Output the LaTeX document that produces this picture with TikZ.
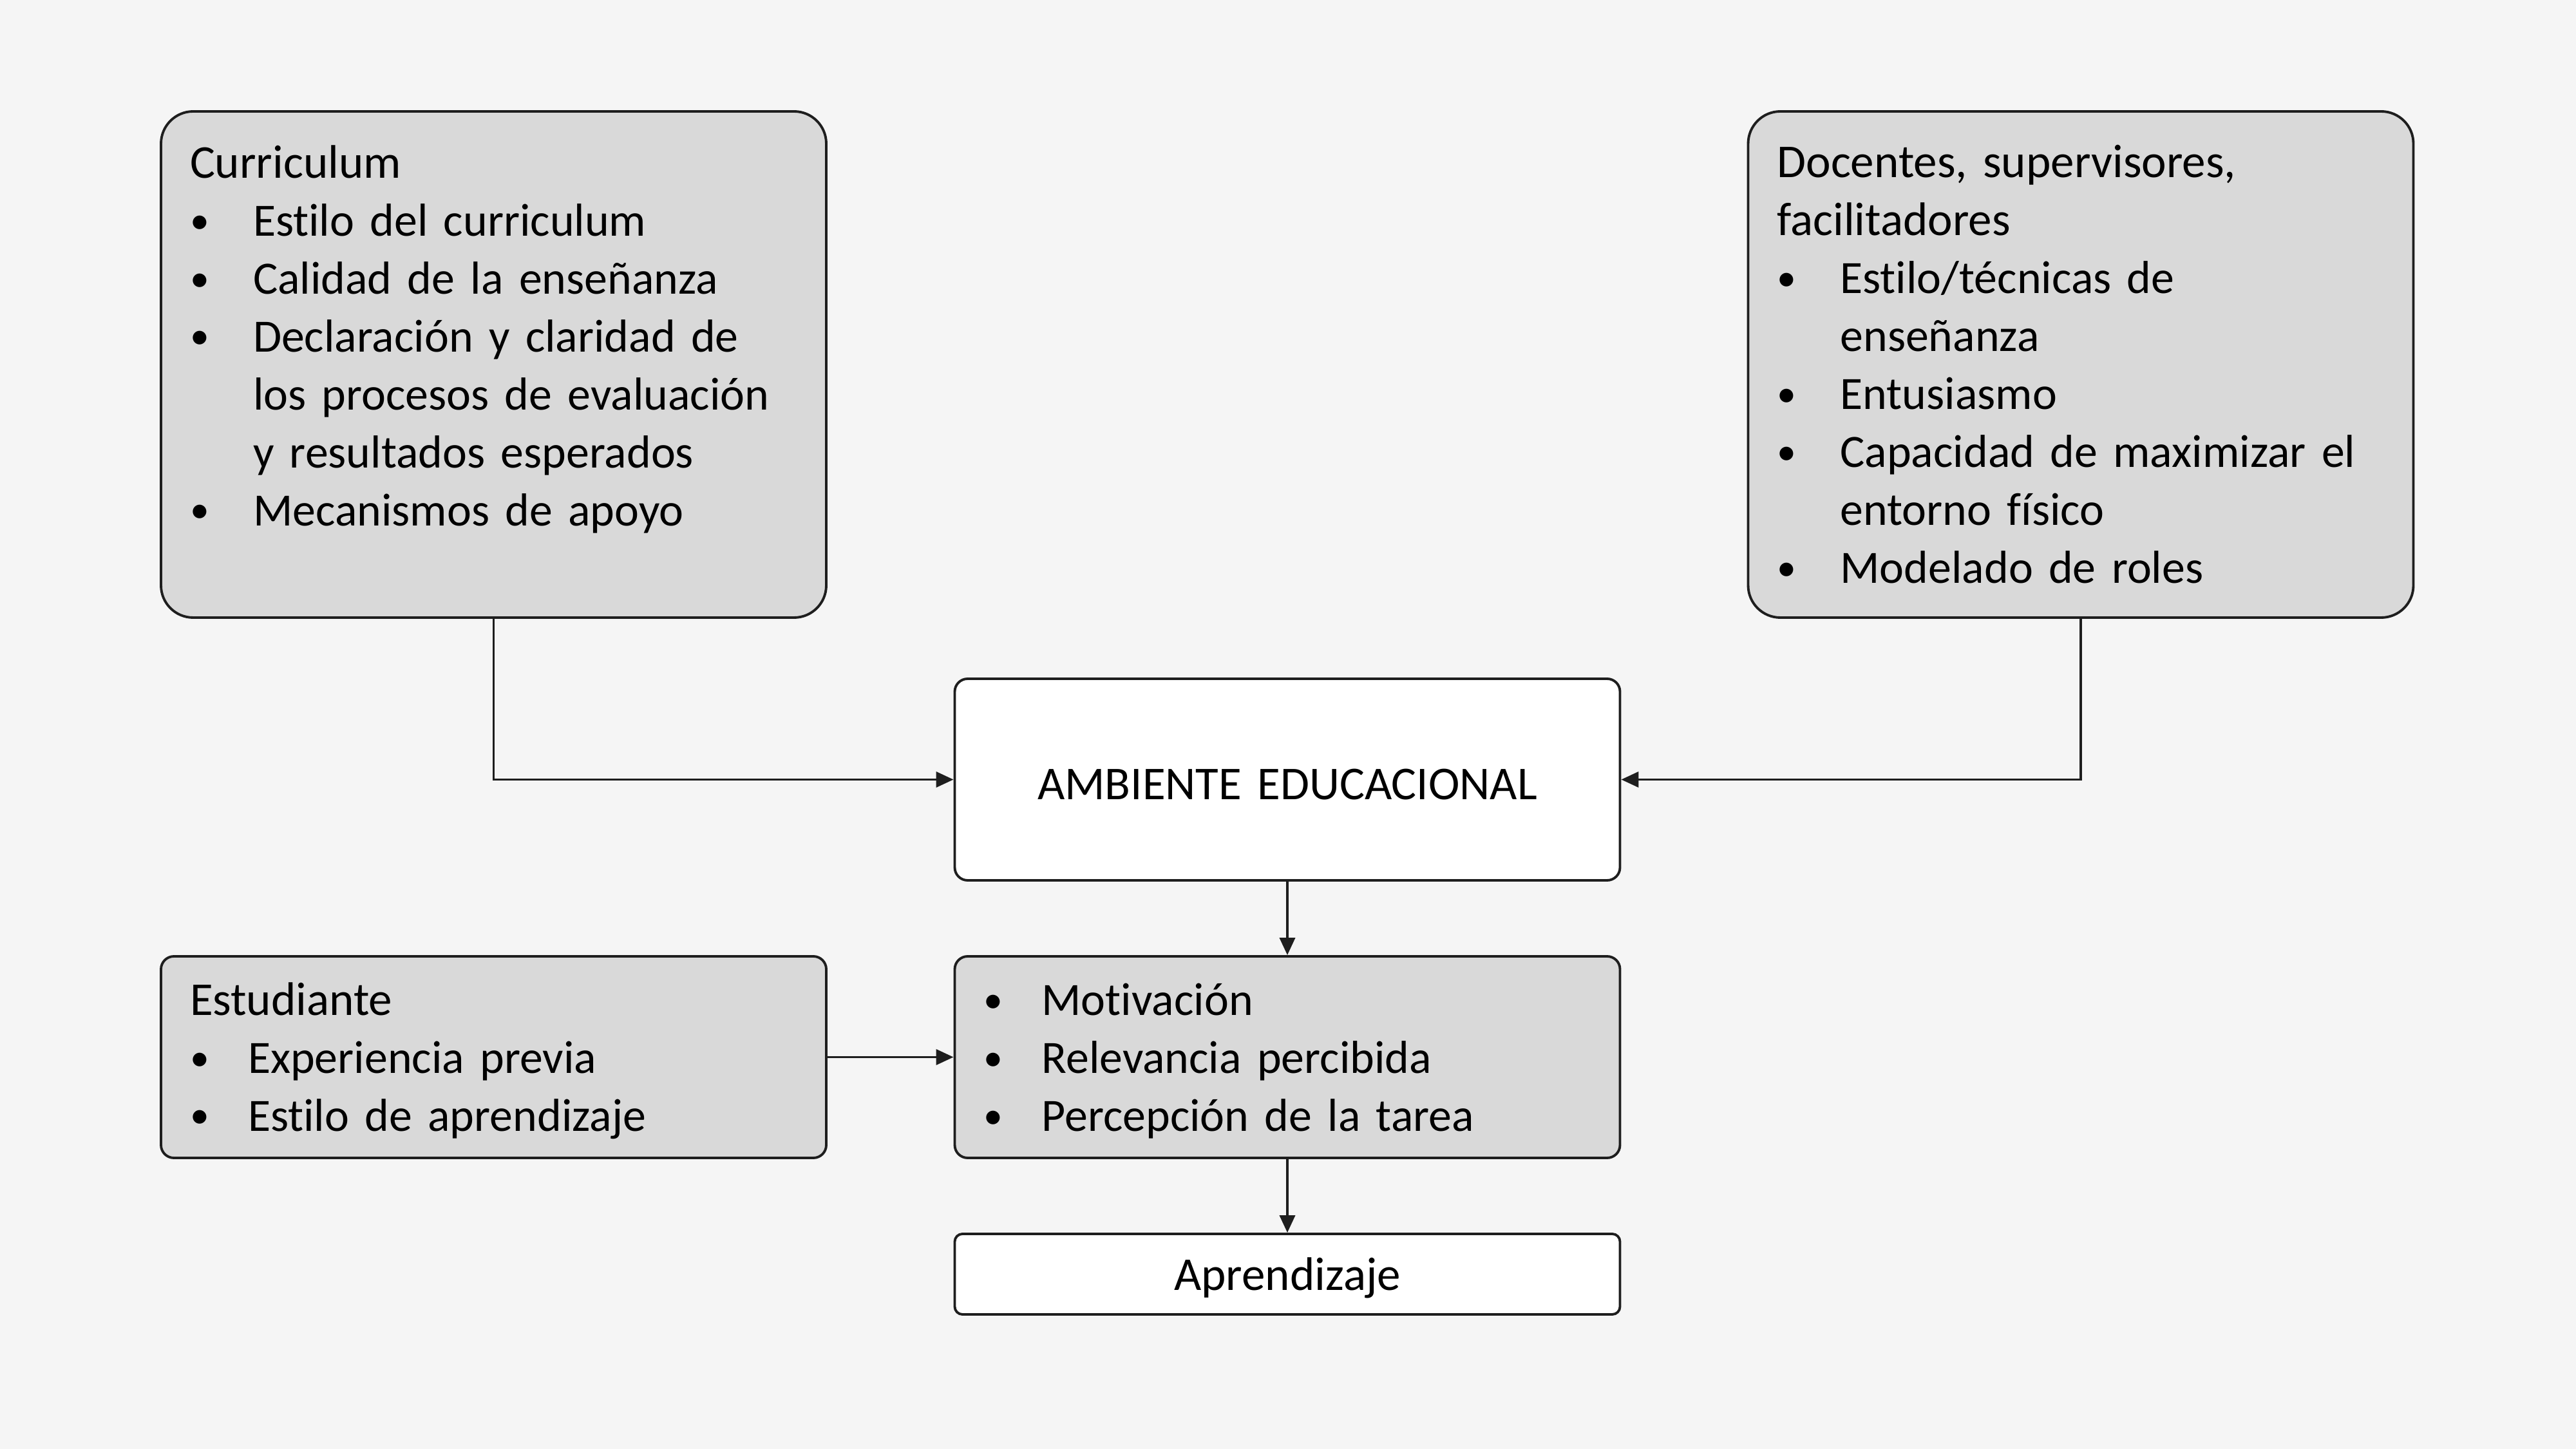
\documentclass[tikz,border=0pt]{standalone}
\usepackage{fontspec}
\setmainfont{Carlito}[Ligatures=NoCommon]
\usetikzlibrary{arrows.meta}
\definecolor{boxgray}{HTML}{D9D9D9}
\definecolor{pagebg}{HTML}{F5F5F5}
\definecolor{lineblack}{HTML}{1E1E1E}
\newlength{\bulind}
\newcommand{\itm}[1]{\makebox[\bulind][l]{\raisebox{0.06em}{\fontsize{17}{17}\selectfont\textbullet}}{\fontsize{20.45}{25.6}\selectfont#1}}
\newcommand{\cont}[1]{\hspace*{\bulind}{\fontsize{20.45}{25.6}\selectfont#1}}
\tikzset{
	box/.style={draw=lineblack, line width=1.1pt, minimum width=10.33cm, text width=9.43cm, inner xsep=0.45cm, inner ysep=0pt, align=left, font=\fontsize{20.8}{25.6}\selectfont},
	bigbox/.style={box, fill=boxgray, minimum height=7.86cm, rounded corners=0.5cm, execute at begin node={\setlength{\bulind}{0.98cm}}},
	midbox/.style={box, minimum height=3.13cm, rounded corners=0.2cm, execute at begin node={\setlength{\bulind}{0.9cm}\rule{0pt}{0.85em}}},
}
\begin{document}
\begin{tikzpicture}[>={Triangle[length=0.27cm,width=0.24cm]}, line width=1.1pt, draw=lineblack]
			\fill[pagebg] (0,0) rectangle (40,-22.5);
			\node	(cur) at (7.665,-5.66) [bigbox] {Curriculum\\
				\itm{Estilo del curriculum}\\
				\itm{Calidad de la enseñanza}\\
				\itm{Declaración y claridad de}\\
				\cont{los procesos de evaluación}\\
				\cont{y resultados esperados}\\
				\itm{Mecanismos de apoyo}\\
				\mbox{}};
			\node	(doc) at (32.31,-5.66) [bigbox] {Docentes, supervisores,\\
				facilitadores\\
				\itm{Estilo/técnicas de}\\
				\cont{enseñanza}\\
				\itm{Entusiasmo}\\
				\itm{Capacidad de maximizar el}\\
				\cont{entorno físico}\\
				\itm{Modelado de roles}};
			\node	(amb) at (19.99,-12.105) [midbox, fill=white, align=center] {AMBIENTE EDUCACIONAL};
			\node	(mot) at (19.99,-16.415) [midbox, fill=boxgray] {\itm{Motivación}\\
				\itm{Relevancia percibida}\\
				\itm{Percepción de la tarea}};
			\node	(est) at (7.665,-16.415) [midbox, fill=boxgray] {Estudiante\\
				\itm{Experiencia previa}\\
				\itm{Estilo de aprendizaje}};
			\node	(apr) at (19.99,-19.785) [midbox, fill=white, minimum height=1.25cm, rounded corners=0.12cm, align=center] {Aprendizaje};
			
			\draw[->] (cur) |- (amb);
			\draw[->] (doc) |- (amb);
			\draw 
			(amb) edge[->] (mot)
			(est) edge[->] (mot)
			(mot) edge[->] (apr)
			;
		\end{tikzpicture}
\end{document}
